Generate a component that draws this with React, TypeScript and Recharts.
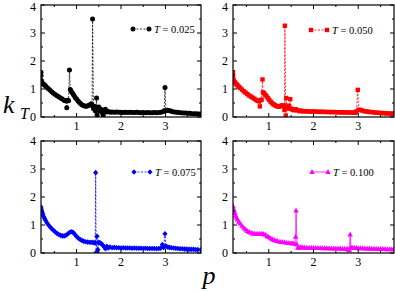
import React from "react";
import { LineChart, Line, XAxis, YAxis } from "recharts";

// [p, k_T] pairs
const t025: [number, number][] = [
  [0.20, 1.60], [0.20, 1.48], [0.21, 1.30], [0.22, 1.22], [0.24, 1.20], [0.26, 1.17], [0.28, 1.14], [0.30, 1.12],
  [0.33, 1.06], [0.36, 1.02], [0.40, 0.96], [0.44, 0.90], [0.48, 0.85], [0.52, 0.80], [0.56, 0.76], [0.60, 0.72],
  [0.64, 0.68], [0.68, 0.64], [0.72, 0.60], [0.75, 0.58], [0.77, 0.57], [0.78, 0.33], [0.80, 0.60], [0.82, 0.58],
  [0.84, 1.68], [0.86, 0.98], [0.88, 0.92], [0.91, 0.85], [0.94, 0.78], [0.97, 0.70], [1.00, 0.64], [1.03, 0.58],
  [1.06, 0.53], [1.09, 0.48], [1.12, 0.44], [1.15, 0.41], [1.18, 0.39], [1.21, 0.38], [1.24, 0.39], [1.27, 0.41],
  [1.30, 0.44], [1.33, 0.47], [1.35, 0.42], [1.36, 3.50], [1.38, 0.30], [1.40, 0.38], [1.42, 0.22], [1.44, 0.34],
  [1.45, 0.68], [1.46, 0.08], [1.48, 0.30], [1.50, 0.36], [1.52, 0.22], [1.55, 0.28], [1.58, 0.14], [1.60, 0.05],
  [1.62, 0.24], [1.65, 0.28], [1.68, 0.18], [1.72, 0.20], [1.76, 0.17], [1.80, 0.18], [1.85, 0.17], [1.90, 0.18],
  [1.95, 0.17], [2.00, 0.17], [2.05, 0.16], [2.10, 0.17], [2.15, 0.16], [2.20, 0.17], [2.25, 0.16], [2.30, 0.16],
  [2.35, 0.17], [2.40, 0.16], [2.45, 0.15], [2.50, 0.16], [2.55, 0.15], [2.60, 0.16], [2.65, 0.15], [2.70, 0.15],
  [2.75, 0.16], [2.80, 0.15], [2.85, 0.16], [2.90, 0.17], [2.95, 0.20], [2.97, 0.22], [2.99, 1.05], [3.01, 0.22],
  [3.04, 0.24], [3.08, 0.23], [3.12, 0.21], [3.16, 0.19], [3.20, 0.18], [3.25, 0.17], [3.30, 0.16], [3.35, 0.15],
  [3.40, 0.14], [3.45, 0.14], [3.50, 0.13], [3.55, 0.13], [3.60, 0.12], [3.65, 0.12], [3.70, 0.12], [3.75, 0.11],
  [3.80, 0.11],
];

const t050: [number, number][] = [
  [0.20, 1.60], [0.20, 1.45], [0.21, 1.34], [0.22, 1.28], [0.24, 1.24], [0.26, 1.20], [0.28, 1.16], [0.30, 1.13],
  [0.33, 1.08], [0.36, 1.04], [0.40, 0.98], [0.44, 0.92], [0.48, 0.87], [0.52, 0.82], [0.56, 0.77], [0.60, 0.73],
  [0.64, 0.69], [0.68, 0.65], [0.72, 0.61], [0.75, 0.58], [0.78, 0.56], [0.80, 0.38], [0.82, 0.60], [0.84, 0.62],
  [0.86, 1.34], [0.87, 0.88], [0.89, 0.85], [0.92, 0.80], [0.95, 0.74], [0.98, 0.67], [1.01, 0.61], [1.04, 0.55],
  [1.07, 0.50], [1.10, 0.46], [1.13, 0.43], [1.16, 0.40], [1.19, 0.38], [1.22, 0.37], [1.25, 0.38], [1.28, 0.40],
  [1.31, 0.42], [1.34, 0.40], [1.35, 0.25], [1.36, 3.26], [1.38, 0.05], [1.39, 0.68], [1.41, 0.30], [1.43, 0.36],
  [1.45, 0.40], [1.48, 0.64], [1.50, 0.30], [1.53, 0.26], [1.56, 0.24], [1.60, 0.28], [1.64, 0.24], [1.68, 0.21],
  [1.72, 0.23], [1.76, 0.20], [1.80, 0.21], [1.85, 0.20], [1.90, 0.20], [1.95, 0.19], [2.00, 0.20], [2.05, 0.19],
  [2.10, 0.19], [2.15, 0.18], [2.20, 0.19], [2.25, 0.18], [2.30, 0.18], [2.35, 0.18], [2.40, 0.17], [2.45, 0.18],
  [2.50, 0.17], [2.55, 0.17], [2.60, 0.17], [2.65, 0.16], [2.70, 0.17], [2.75, 0.16], [2.80, 0.16], [2.85, 0.16],
  [2.90, 0.16], [2.93, 0.15], [2.96, 0.20], [2.99, 0.97], [3.01, 0.26], [3.05, 0.25], [3.09, 0.23], [3.13, 0.21],
  [3.17, 0.20], [3.22, 0.19], [3.27, 0.18], [3.32, 0.17], [3.37, 0.16], [3.42, 0.15], [3.47, 0.15], [3.52, 0.14],
  [3.57, 0.14], [3.62, 0.13], [3.67, 0.13], [3.72, 0.12], [3.76, 0.12], [3.80, 0.12],
];

const t075: [number, number][] = [
  [0.20, 1.64], [0.21, 1.56], [0.22, 1.49], [0.23, 1.43], [0.24, 1.38], [0.26, 1.30], [0.28, 1.23], [0.30, 1.17],
  [0.33, 1.09], [0.36, 1.02], [0.40, 0.94], [0.44, 0.87], [0.48, 0.81], [0.52, 0.75], [0.56, 0.70], [0.60, 0.66],
  [0.64, 0.63], [0.68, 0.61], [0.72, 0.61], [0.76, 0.63], [0.80, 0.68], [0.84, 0.73], [0.88, 0.76], [0.92, 0.74],
  [0.96, 0.67], [1.00, 0.59], [1.04, 0.53], [1.08, 0.48], [1.12, 0.45], [1.16, 0.42], [1.20, 0.40], [1.25, 0.39],
  [1.30, 0.38], [1.35, 0.38], [1.39, 0.37], [1.42, 0.36], [1.43, 2.87], [1.44, 0.02], [1.46, 0.60], [1.48, 0.12],
  [1.50, 0.38], [1.53, 0.36], [1.56, 0.33], [1.59, 0.28], [1.62, 0.22], [1.65, 0.15], [1.68, 0.24], [1.71, 0.18],
  [1.75, 0.21], [1.80, 0.19], [1.85, 0.20], [1.90, 0.19], [1.95, 0.19], [2.00, 0.18], [2.05, 0.19], [2.10, 0.18],
  [2.15, 0.18], [2.20, 0.18], [2.25, 0.17], [2.30, 0.18], [2.35, 0.17], [2.40, 0.17], [2.45, 0.17], [2.50, 0.16],
  [2.55, 0.17], [2.60, 0.16], [2.65, 0.16], [2.70, 0.16], [2.75, 0.16], [2.80, 0.15], [2.85, 0.16], [2.89, 0.17],
  [2.93, 0.30], [2.96, 0.20], [2.99, 0.69], [3.01, 0.24], [3.05, 0.21], [3.09, 0.20], [3.13, 0.19], [3.18, 0.18],
  [3.23, 0.17], [3.28, 0.16], [3.33, 0.15], [3.38, 0.15], [3.43, 0.14], [3.48, 0.14], [3.53, 0.13], [3.58, 0.13],
  [3.63, 0.13], [3.68, 0.12], [3.73, 0.12], [3.80, 0.12],
];

const t100: [number, number][] = [
  [0.20, 1.68], [0.21, 1.60], [0.22, 1.53], [0.23, 1.47], [0.24, 1.42], [0.26, 1.34], [0.28, 1.27], [0.30, 1.20],
  [0.33, 1.12], [0.36, 1.05], [0.40, 0.97], [0.44, 0.90], [0.48, 0.84], [0.52, 0.79], [0.56, 0.75], [0.60, 0.72],
  [0.64, 0.70], [0.68, 0.69], [0.72, 0.68], [0.76, 0.68], [0.80, 0.69], [0.84, 0.69], [0.88, 0.68], [0.92, 0.65],
  [0.96, 0.61], [1.00, 0.57], [1.04, 0.53], [1.08, 0.49], [1.12, 0.46], [1.16, 0.44], [1.20, 0.42], [1.25, 0.40],
  [1.30, 0.39], [1.35, 0.38], [1.40, 0.37], [1.45, 0.36], [1.50, 0.35], [1.54, 0.34], [1.58, 0.33], [1.60, 0.58],
  [1.61, 1.52], [1.63, 0.30], [1.65, 0.20], [1.68, 0.18], [1.72, 0.21], [1.76, 0.20], [1.80, 0.20], [1.85, 0.19],
  [1.90, 0.19], [1.95, 0.19], [2.00, 0.18], [2.05, 0.18], [2.10, 0.18], [2.15, 0.18], [2.20, 0.17], [2.25, 0.17],
  [2.30, 0.17], [2.35, 0.17], [2.40, 0.16], [2.45, 0.16], [2.50, 0.16], [2.55, 0.16], [2.60, 0.16], [2.65, 0.15],
  [2.70, 0.15], [2.75, 0.15], [2.78, 0.12], [2.80, 0.10], [2.82, 0.66], [2.84, 0.20], [2.88, 0.19], [2.92, 0.18],
  [2.96, 0.18], [3.00, 0.17], [3.05, 0.17], [3.10, 0.17], [3.15, 0.16], [3.20, 0.16], [3.25, 0.16], [3.30, 0.15],
  [3.35, 0.15], [3.40, 0.15], [3.45, 0.14], [3.50, 0.14], [3.55, 0.14], [3.60, 0.14], [3.65, 0.13], [3.70, 0.13],
  [3.75, 0.13], [3.80, 0.13],
];

const temps = ["0.025", "0.050", "0.075", "0.100"];
const xTicks = [0.5, 1, 1.5, 2, 2.5, 3, 3.5];
const yTicks = [0, 0.5, 1, 1.5, 2, 2.5, 3, 3.5, 4];

const FONT = "'Liberation Serif', 'Times New Roman', serif";
const PLOT_H = 112;
const PAD_TOP = 12;

type Shape = "circle" | "square" | "diamond" | "triangle";

const Marker = ({ cx, cy, shape, color }: { cx: number; cy: number; shape: Shape; color: string }) => {
  if (cx == null || cy == null || isNaN(cx) || isNaN(cy)) return null;
  if (shape === "circle") return <circle cx={cx} cy={cy} r={2.5} fill={color} />;
  if (shape === "square") return <rect x={cx - 2.2} y={cy - 2.2} width={4.4} height={4.4} fill={color} />;
  if (shape === "diamond")
    return <polygon points={`${cx},${cy - 2.8} ${cx + 2.6},${cy} ${cx},${cy + 2.8} ${cx - 2.6},${cy}`} fill={color} />;
  return <polygon points={`${cx},${cy - 3} ${cx + 2.7},${cy + 2} ${cx - 2.7},${cy + 2}`} fill={color} />;
};

const panels = [
  { data: t025, temp: temps[0], color: "#000000", shape: "circle" as Shape, dash: "2 1.5", left: 41, top: 5, w: 160, lx: 133, ly: 29 },
  { data: t050, temp: temps[1], color: "#ff0000", shape: "square" as Shape, dash: "2 1.5", left: 233, top: 5, w: 161, lx: 311, ly: 30 },
  { data: t075, temp: temps[2], color: "#0000ff", shape: "diamond" as Shape, dash: "2 1.5", left: 41, top: 141, w: 160, lx: 134, ly: 172 },
  { data: t100, temp: temps[3], color: "#ff00ff", shape: "triangle" as Shape, dash: "", left: 233, top: 141, w: 161, lx: 312, ly: 172 },
];

const Panel = ({ p }: { p: (typeof panels)[number] }) => {
  const rows = p.data.map(([x, k]) => ({ p: x, k }));
  // keep the top label inside the page for the upper panels
  const minLabelY = PAD_TOP - p.top + 7;
  const xTick = (props: any) => {
    const { x, y, payload } = props;
    const v = payload.value;
    const major = Number.isInteger(v);
    const len = major ? 4 : 2;
    return (
      <g key={`xt${v}`}>
        <line x1={x} x2={x} y1={y} y2={y - len} stroke="#000" />
        <line x1={x} x2={x} y1={y - PLOT_H} y2={y - PLOT_H + len} stroke="#000" />
        {major && (
          <text x={x} y={y + 4} dy="0.71em" textAnchor="middle" fontSize={12} fontFamily={FONT} fill="#000">
            {v}
          </text>
        )}
      </g>
    );
  };
  const yTick = (props: any) => {
    const { x, y, payload } = props;
    const v = payload.value;
    const major = Number.isInteger(v);
    const len = major ? 4 : 2;
    return (
      <g key={`yt${v}`}>
        <line x1={x} x2={x + len} y1={y} y2={y} stroke="#000" />
        <line x1={x + p.w} x2={x + p.w - len} y1={y} y2={y} stroke="#000" />
        {major && (
          <text x={x - 5} y={Math.max(y, minLabelY)} dy="0.35em" textAnchor="end" fontSize={12} fontFamily={FONT} fill="#000">
            {v}
          </text>
        )}
      </g>
    );
  };
  return (
    <div style={{ position: "absolute", left: p.left - 30, top: p.top - PAD_TOP }}>
      <LineChart width={p.w + 32} height={PLOT_H + PAD_TOP + 20} data={rows} margin={{ top: PAD_TOP, right: 2, left: 0, bottom: 0 }}>
        <XAxis
          type="number"
          dataKey="p"
          domain={[0.2, 3.8]}
          ticks={xTicks}
          interval={0}
          tickSize={0}
          tickMargin={0}
          axisLine={false}
          height={20}
          allowDataOverflow
          tick={xTick}
        />
        <YAxis
          type="number"
          domain={[0, 4]}
          ticks={yTicks}
          interval={0}
          tickSize={0}
          tickMargin={0}
          axisLine={false}
          width={30}
          allowDataOverflow
          tick={yTick}
        />
        <Line
          type="linear"
          dataKey="k"
          stroke={p.color}
          strokeWidth={0.8}
          strokeDasharray={p.dash || undefined}
          isAnimationActive={false}
          dot={(d: any) => <Marker key={`m${d.index}`} cx={d.cx} cy={d.cy} shape={p.shape} color={p.color} />}
          activeDot={false}
        />
      </LineChart>
    </div>
  );
};

const LegendEntry = ({ p }: { p: (typeof panels)[number] }) => (
  <g>
    <line x1={p.lx} x2={p.lx + 16} y1={p.ly} y2={p.ly} stroke={p.color} strokeWidth={0.8} strokeDasharray={p.dash || undefined} />
    <Marker cx={p.lx} cy={p.ly} shape={p.shape} color={p.color} />
    <Marker cx={p.lx + 16} cy={p.ly} shape={p.shape} color={p.color} />
    <text x={p.lx + 21} y={p.ly} dy="0.35em" fontSize={10.5} fontFamily={FONT} fill="#000">
      <tspan fontStyle="italic">T</tspan> = {p.temp}
    </text>
  </g>
);

export default function App() {
  return (
    <div style={{ position: "absolute", left: 0, top: 0, width: 395, height: 291, background: "#fff", overflow: "hidden" }}>
      {panels.map((p) => (
        <Panel key={p.temp} p={p} />
      ))}
      <svg width={395} height={291} style={{ position: "absolute", left: 0, top: 0, pointerEvents: "none" }}>
        {panels.map((p) => (
          <rect key={`b${p.temp}`} x={p.left} y={p.top} width={p.w} height={PLOT_H} fill="none" stroke="#000" strokeWidth={1.2} />
        ))}
        {panels.map((p) => (
          <LegendEntry key={`l${p.temp}`} p={p} />
        ))}
        <text x={3} y={113} fontSize={26} fontStyle="italic" fontFamily={FONT} fill="#000">k</text>
        <text x={20} y={119} fontSize={16} fontStyle="italic" fontFamily={FONT} fill="#000">T</text>
        <text x={209} y={284} fontSize={26} fontStyle="italic" textAnchor="middle" fontFamily={FONT} fill="#000">p</text>
      </svg>
    </div>
  );
}
